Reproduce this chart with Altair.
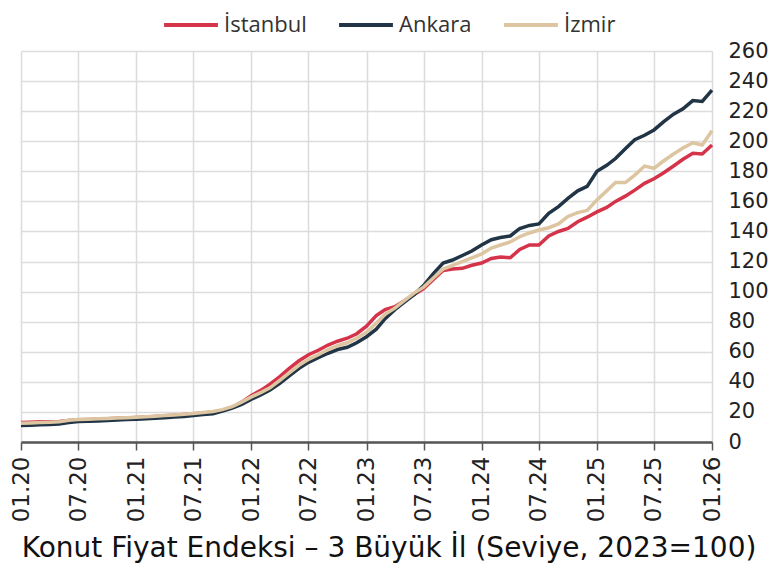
import altair as alt
import pandas as pd

months = pd.date_range("2020-01-01", "2026-01-01", freq="MS").strftime("%Y/%m/%d").tolist()

istanbul = [13.0, 13.2, 13.4, 13.5, 13.7,
            14.3, 14.8, 15.0, 15.2, 15.5,
            15.8, 16.0, 16.3, 16.6, 17.0,
            17.4, 17.8, 18.3, 18.8, 19.3,
            20.0, 21.0, 23.0, 26.5, 31.0,
            34.5, 38.5, 43.5, 49.0, 54.0,
            58.0, 61.0, 64.5, 67.0, 69.0,
            72.0, 77.0, 84.0, 88.0, 90.0,
            94.0, 98.0, 102.0, 108.0, 114.0,
            115.0, 115.5, 117.5, 119.0, 122.0,
            123.0, 122.5, 128.0, 131.0, 131.0,
            137.0, 140.0, 142.0, 146.5, 149.5,
            153.0, 156.0, 160.0, 163.5, 167.5,
            172.0, 175.0, 179.0, 183.5, 188.0,
            192.0, 191.5, 197.5]

ankara = [11.0, 11.2, 11.4, 11.6, 12.0,
          13.0, 13.6, 13.8, 14.0, 14.3,
          14.6, 15.0, 15.2, 15.5, 15.8,
          16.2, 16.6, 17.0, 17.6, 18.2,
          18.8, 20.5, 22.5, 25.0, 28.5,
          31.5, 34.5, 39.0, 44.0, 49.0,
          53.0, 56.0, 59.0, 61.5, 63.0,
          66.0, 70.0, 75.0, 82.0, 88.0,
          93.0, 98.0, 104.0, 112.0, 119.0,
          121.0, 124.0, 127.0, 131.0, 134.5,
          136.0, 137.0, 142.0, 144.0, 145.0,
          152.0, 156.5, 162.0, 167.0, 170.0,
          180.0, 184.0, 188.5, 195.0, 201.0,
          204.0, 207.5, 213.0, 218.0, 221.5,
          227.0, 226.5, 234.0]

izmir = [12.5, 12.7, 12.9, 13.1, 13.4,
         14.5, 15.0, 15.2, 15.4, 15.7,
         16.0, 16.2, 16.5, 16.8, 17.2,
         17.6, 18.0, 18.5, 19.0, 19.6,
         20.3, 21.5, 23.5, 26.5, 30.0,
         33.0, 36.0, 41.0, 46.0, 51.0,
         55.0, 58.0, 61.5, 64.0, 66.0,
         69.0, 73.0, 79.0, 85.0, 89.0,
         94.0, 99.0, 103.0, 109.0, 115.0,
         117.5, 120.0, 122.5, 125.0, 129.0,
         131.0, 133.0, 136.5, 139.0, 141.0,
         142.5, 145.0, 150.0, 152.5, 154.0,
         161.0, 167.0, 172.5, 172.5, 177.5,
         183.5, 182.0, 187.0, 191.5, 195.5,
         199.0, 197.5, 207.0]

cities = ["İstanbul", "Ankara", "İzmir"]
colors = ["#d4334a", "#213547", "#dcc5a0"]
y_ticks = list(range(0, 261, 20))

df = pd.DataFrame({
    "date": months * 3,
    "value": istanbul + ankara + izmir,
    "city": [cities[0]] * len(istanbul) + [cities[1]] * len(ankara) + [cities[2]] * len(izmir),
})

chart = alt.Chart(df).mark_line(strokeWidth=3.5).encode(
    x=alt.X("date:T",
            scale=alt.Scale(domain=[alt.DateTime(year=2020, month=1, date=1),
                                    alt.DateTime(year=2026, month=1, date=1)], nice=False),
            axis=alt.Axis(title=None, format="%m.%y",
                          tickCount={"interval": "month", "step": 6},
                          labelAngle=-90, labelFontSize=23, labelFont="DejaVu Sans",
                          labelColor="#222222", labelPadding=6,
                          domainColor="#555555", domainWidth=2.5,
                          tickColor="#555555", tickWidth=1.5, tickSize=8,
                          grid=True, gridColor="#dcdcdc", gridWidth=1.5)),
    y=alt.Y("value:Q",
            scale=alt.Scale(domain=[0, 260], nice=False),
            axis=alt.Axis(title=None, orient="right", values=y_ticks,
                          labelFontSize=21, labelFont="DejaVu Sans",
                          labelColor="#222222", labelPadding=16,
                          ticks=False, domain=False,
                          grid=True, gridColor="#dcdcdc", gridWidth=1.5)),
    color=alt.Color("city:N",
                    scale=alt.Scale(domain=cities, range=colors),
                    sort=cities,
                    legend=alt.Legend(title=None, orient="none", direction="horizontal",
                                      legendX=141, legendY=-55,
                                      symbolType="stroke", symbolSize=2900,
                                      symbolStrokeWidth=4, labelFont="Open Sans",
                                      labelFontSize=22, labelColor="#333333",
                                      labelOffset=4, columnPadding=24)),
).properties(
    width=691,
    height=391,
    autosize=alt.AutoSizeParams(type="none"),
    padding={"left": 13, "top": 43, "right": 57, "bottom": 128},
    title=alt.TitleParams("Konut Fiyat Endeksi – 3 Büyük İl (Seviye, 2023=100)",
                          orient="bottom", anchor="middle", frame="bounds",
                          fontSize=28, font="DejaVu Sans", fontWeight="normal",
                          color="#111111", offset=13),
).configure_view(stroke=None)

chart.save("out.html", embed_options={"renderer": "svg", "actions": False})
